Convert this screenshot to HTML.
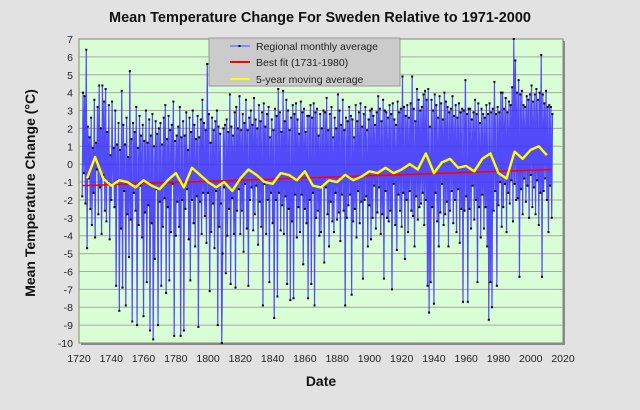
<!DOCTYPE html>
<html><head><meta charset="utf-8"><style>
html,body{margin:0;padding:0;background:#e2e2e2;}
svg{display:block;font-family:"Liberation Sans",Calibri,sans-serif;}
</style></head><body>
<svg id="chart" width="640" height="410">
<rect x="0" y="0" width="640" height="410" fill="#e2e2e2"/>
<text x="320" y="22" text-anchor="middle" font-size="14.5" font-weight="bold" fill="#111">Mean Temperature Change For Sweden Relative to 1971-2000</text>
<rect x="81" y="41" width="484" height="304" fill="#8a8a8a"/>
<rect x="79" y="39" width="484" height="304" fill="#d9fdd5" stroke="#7a8a7a" stroke-width="1"/>
<g id="grid"></g>
<g id="yticks"></g>
<g id="xticks"></g>
<g id="series"></g>
<text transform="translate(35,193) rotate(-90)" text-anchor="middle" font-size="14" font-weight="bold" fill="#111">Mean  Temperature  Change  (°C)</text>
<text x="321" y="386" text-anchor="middle" font-size="14" font-weight="bold" fill="#111">Date</text>
<g>
<rect x="209" y="38" width="191" height="48" fill="#cbcbcb" stroke="#999"/>
<g><line x1="230" y1="46" x2="250" y2="46" stroke="#8a8aff" stroke-width="2"/><rect x="238.5" y="45" width="2" height="2" fill="#000"/><text x="256" y="50" font-size="10.5" fill="#222">Regional monthly average</text></g>
<g><line x1="230" y1="62" x2="250" y2="62" stroke="#ff0000" stroke-width="2"/><text x="256" y="66" font-size="10.5" fill="#222">Best fit (1731-1980)</text></g>
<g><line x1="230" y1="79" x2="250" y2="79" stroke="#ffff00" stroke-width="2"/><text x="256" y="83" font-size="10.5" fill="#222">5-year moving average</text></g>
</g>
</svg>
<script>
const xTicks=[1720,1740,1760,1780,1800,1820,1840,1860,1880,1900,1920,1940,1960,1980,2000,2020];
const yTicks=[7,6,5,4,3,2,1,0,-1,-2,-3,-4,-5,-6,-7,-8,-9,-10];
const monthlyStart=1722;
const monthlyStep=0.5;
const monthlyValues=[
-1.8,4.0,-0.5,3.8,-2.2,6.4,-4.7,2.1,-0.8,1.5,-2.5,2.6,-3.4,0.9,-1.6,3.6,-4.1,1.2,-0.3,3.2,
-2.8,4.4,-1.3,2.0,-3.9,4.4,-0.6,3.5,-2.6,4.2,-3.2,1.8,-1.0,3.3,-4.2,0.5,-2.0,3.5,-1.1,0.9,
-2.4,3.0,-6.8,1.1,-0.9,2.3,-8.2,0.8,-3.6,4.1,-6.9,2.2,-1.5,1.1,-7.9,2.6,-2.8,0.4,-5.2,5.2,
-3.1,1.4,-8.8,2.3,-1.6,1.8,-2.6,3.2,-9.0,0.9,-3.4,2.7,-1.2,1.6,-4.1,2.2,-8.5,1.3,-2.7,3.0,
-6.6,1.2,-2.3,2.5,-9.3,1.6,-3.3,2.8,-9.8,1.0,-5.3,2.4,-1.4,1.7,-9.0,2.0,-2.1,2.3,-6.8,1.1,
-3.5,2.6,-1.9,3.3,-7.2,1.4,-2.4,2.7,-6.5,1.9,-3.8,2.2,-1.1,3.5,-9.6,1.3,-4.0,1.6,-2.1,2.1,
-3.5,3.2,-9.6,1.5,-2.0,2.4,-9.3,1.6,-2.5,2.9,-1.4,0.8,-4.2,2.6,-6.5,1.8,-2.0,3.0,-3.3,2.2,
-4.6,1.4,-1.8,2.7,-9.1,1.5,-2.1,2.5,-3.9,3.6,-1.6,2.3,-2.9,1.9,-4.4,5.6,-1.6,2.8,-7.1,1.2,
-3.8,2.6,-2.2,1.9,-4.7,2.4,-1.5,3.0,-9.0,2.1,-3.5,1.7,-2.2,-10,-5.0,2.0,-1.3,2.2,-6.1,2.5,
-4.0,1.8,-2.5,3.9,-6.7,2.1,-1.9,1.6,-3.9,2.9,-6.9,3.2,-2.6,2.0,-1.4,3.8,-3.9,1.9,-2.6,2.8,
-4.9,2.3,-1.1,3.6,-3.6,1.9,-6.8,2.6,-2.0,3.0,-1.3,2.2,-3.7,3.7,-2.8,2.5,-1.2,2.0,-4.5,3.3,
-2.1,2.4,-3.5,2.9,-7.9,3.4,-1.1,2.1,-3.9,2.8,-2.0,3.2,-6.6,1.5,-1.6,2.5,-3.3,1.9,-8.6,3.1,
-2.0,2.7,-7.4,4.2,-1.6,2.9,-3.7,1.8,-2.3,4.1,-3.9,2.4,-1.8,3.6,-6.7,3.0,-2.5,1.9,-7.6,2.6,
-3.2,3.3,-7.5,2.8,-1.7,3.4,-4.1,2.5,-2.4,1.7,-3.8,3.5,-1.7,2.9,-5.6,3.1,-2.5,1.8,-3.3,2.7,
-7.5,2.7,-2.0,3.3,-6.7,2.6,-1.6,3.4,-7.9,2.9,-3.0,3.1,-2.6,1.6,-4.0,2.8,-3.8,2.0,-1.2,3.0,
-5.5,2.9,-1.3,3.7,-2.8,1.9,-4.6,2.8,-2.1,3.2,-3.2,1.5,-3.8,2.6,-1.6,2.0,-3.1,3.9,-2.7,3.0,
-4.3,2.2,-1.7,3.6,-2.6,1.9,-7.9,2.6,-3.0,2.4,-2.3,3.2,-1.7,2.7,-7.3,2.5,-3.2,1.5,-2.5,3.3,
-4.1,2.4,-1.5,2.9,-3.3,3.4,-2.1,2.1,-6.4,2.8,-2.0,3.2,-1.8,1.9,-4.6,2.5,-2.3,3.0,-4.2,3.1,
-3.0,2.7,-1.2,2.2,-3.6,2.9,-2.7,3.8,-1.3,3.1,-3.9,2.4,-2.8,3.6,-6.4,3.0,-1.5,2.9,-3.0,2.6,
-3.2,3.3,-2.6,2.8,-7.0,3.4,-1.1,2.5,-3.4,2.2,-4.8,3.5,-1.7,2.9,-2.6,3.1,-3.5,4.9,-1.6,3.2,
-5.3,2.7,-2.0,3.3,-3.8,2.6,-1.5,3.4,-2.6,4.9,-2.9,3.1,-4.6,2.4,-1.8,4.2,-3.1,3.6,-2.4,3.0,
-2.2,3.2,-1.6,3.9,-3.4,4.1,-2.0,3.6,-6.8,4.2,-8.3,2.1,-6.6,3.6,-2.4,3.0,-7.8,3.9,-1.6,3.3,
-3.2,2.6,-4.6,3.8,-2.7,3.4,-1.1,2.5,-3.4,4.0,-2.8,3.5,-2.1,3.2,-4.6,2.9,-2.6,3.1,-1.5,3.8,
-3.3,2.7,-2.0,3.3,-3.8,2.6,-1.4,3.4,-4.4,2.9,-2.5,3.1,-7.7,3.0,-2.6,4.7,-1.8,2.8,-7.7,3.1,
-2.5,3.1,-3.6,2.5,-1.2,2.9,-3.1,3.6,-2.0,2.8,-6.6,3.4,-2.4,2.3,-4.1,3.1,-1.7,2.8,-3.6,2.6,
-2.4,3.3,-4.6,2.8,-8.7,3.4,-6.6,2.9,-8.0,3.1,-2.6,4.6,-1.5,2.8,-6.8,3.2,-2.3,2.9,-1.0,4.0,
-3.5,4.0,-2.4,3.1,-1.1,3.7,-3.8,2.9,-1.6,3.5,-2.2,3.3,-0.9,4.3,-3.2,7.0,-1.1,5.8,-2.0,4.0,
-1.9,4.7,-6.3,3.9,-1.4,4.1,-2.8,3.3,-0.8,3.2,-2.1,3.8,-1.2,3.6,-3.0,3.9,-0.6,4.4,-2.4,3.5,
-1.3,3.9,-2.8,4.2,-0.9,3.6,-3.4,4.0,-1.6,6.1,-6.3,3.9,-1.5,3.4,-0.8,4.1,-2.0,3.2,-3.8,3.3,
-1.2,3.2,-3.0,2.8
];
const maYears=[1725,1730,1735,1740,1745,1750,1755,1760,1765,1770,1775,1780,1785,1790,1795,1800,1805,1810,1815,1820,1825,1830,1835,1840,1845,1850,1855,1860,1865,1870,1875,1880,1885,1890,1895,1900,1905,1910,1915,1920,1925,1930,1935,1940,1945,1950,1955,1960,1965,1970,1975,1980,1985,1990,1995,2000,2005,2010];
const maValues=[-0.8,0.4,-0.8,-1.2,-0.9,-1.0,-1.3,-0.9,-1.2,-1.4,-0.9,-0.5,-1.3,-0.2,-0.6,-1.0,-1.3,-1.0,-1.5,-0.8,-0.3,-0.6,-1.0,-1.1,-0.5,-0.6,-0.9,-0.4,-1.2,-1.3,-0.9,-1.0,-0.6,-0.9,-0.7,-0.4,-0.5,-0.2,-0.5,-0.3,0.0,-0.3,0.6,-0.5,0.1,0.3,-0.2,-0.1,-0.4,0.3,0.6,-0.5,-0.8,0.7,0.3,0.8,1.0,0.5];
const fitYears=[1722,2013];
const fitValues=[-1.2,-0.3];

const NS='http://www.w3.org/2000/svg';
const X0=79,X1=563,Y0=39,Y1=343;
function xs(y){return X0+(y-1720)/(2020-1720)*(X1-X0);}
function ys(v){return Y1-(v+10)/17*(Y1-Y0);}
function mk(tag,attrs,parent){const e=document.createElementNS(NS,tag);for(const k in attrs)e.setAttribute(k,attrs[k]);parent.appendChild(e);return e;}

const grid=document.getElementById('grid');
const yt=document.getElementById('yticks');
yTicks.forEach(v=>{
  if(v>-10&&v<7){const l=mk('line',{x1:X0,x2:X1,y1:ys(v),y2:ys(v),stroke:'#a8a8a8','stroke-width':1},grid);
  
  }
  const t=mk('text',{x:X0-6,y:ys(v)+4,'text-anchor':'end','font-size':10.5,fill:'#222'},yt);
  t.textContent=v;
  
  
});
const xt=document.getElementById('xticks');
xTicks.forEach(v=>{
  const t=mk('text',{x:xs(v),y:362,'text-anchor':'middle','font-size':10.5,fill:'#222'},xt);
  t.textContent=v;
  
  
});

const sg=document.getElementById('series');
let pts=monthlyValues.map((v,i)=>[xs(monthlyStart+i*monthlyStep),ys(v)]);
const ml=mk('polyline',{points:pts.map(p=>p[0].toFixed(2)+','+p[1].toFixed(2)).join(' '),fill:'none',stroke:'#3a2cff','stroke-width':1.2,'stroke-opacity':0.85},sg);


const dots=mk('g',{fill:'#000'},sg);


pts.forEach(p=>{const r=mk('rect',{x:(p[0]-1).toFixed(2),y:(p[1]-1).toFixed(2),width:2,height:2},dots);

});

const fl=mk('line',{x1:xs(fitYears[0]),y1:ys(fitValues[0]),x2:xs(fitYears[1]),y2:ys(fitValues[1]),stroke:'#ff0000','stroke-width':1.6},sg);



const ma=mk('polyline',{points:maYears.map((y,i)=>xs(y).toFixed(2)+','+ys(maValues[i]).toFixed(2)).join(' '),fill:'none',stroke:'#ffff00','stroke-width':2.4,'stroke-linejoin':'round'},sg);


</script>
</body></html>
